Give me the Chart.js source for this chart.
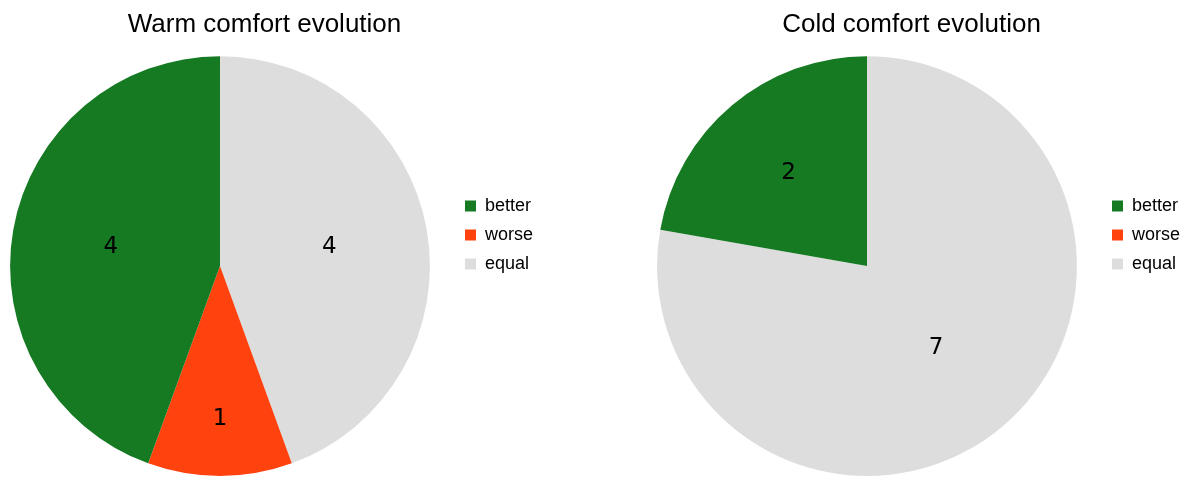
<!DOCTYPE html>
<html>
<head>
<meta charset="utf-8">
<script src="https://cdn.jsdelivr.net/npm/chart.js@4/dist/chart.umd.min.js"></script>
<style>
  html, body { margin: 0; padding: 0; background: #fff; overflow: hidden; }
  #wrap { position: relative; width: 1189px; height: 477px; }
  canvas { position: absolute; top: 0; }
</style>
</head>
<body>
<div id="wrap">
  <canvas id="warm" width="562" height="477" style="left:-14px"></canvas>
  <canvas id="cold" width="562" height="477" style="left:633px"></canvas>
</div>
<script>
// chart data
const categories = ['better', 'worse', 'equal'];
const warmValues = [4, 1, 4];
const coldValues = [2, 0, 7];
const sliceColors = ['#157a22', '#ff420e', '#dddddd'];

// values printed inside each slice, small slices get pushed outward
const sliceLabels = {
  id: 'sliceLabels',
  afterDatasetsDraw(chart) {
    const ctx = chart.ctx;
    const meta = chart.getDatasetMeta(0);
    const data = chart.data.datasets[0].data;
    ctx.save();
    ctx.font = '23px "DejaVu Sans"';
    ctx.fillStyle = '#000';
    ctx.textAlign = 'center';
    ctx.textBaseline = 'middle';
    meta.data.forEach((arc, i) => {
      if (!data[i]) return;
      const p = arc.getProps(['x', 'y', 'startAngle', 'endAngle', 'outerRadius'], true);
      const mid = (p.startAngle + p.endAngle) / 2;
      const span = p.endAngle - p.startAngle;
      const f = 0.5 + 0.23 * Math.pow((Math.PI * 2 / 9) / span, 1.5);
      ctx.fillText(String(data[i]), p.x + Math.cos(mid) * p.outerRadius * f, p.y + Math.sin(mid) * p.outerRadius * f);
    });
    ctx.restore();
  }
};

// LibreOffice draws slices counter-clockwise, so feed them reversed
const makeConfig = (title, values) => ({
  type: 'pie',
  data: {
    labels: categories.slice().reverse(),
    datasets: [
      {
        data: values.slice().reverse(),
        backgroundColor: sliceColors.slice().reverse(),
        borderWidth: 0,
      },
    ],
  },
  options: {
    responsive: false,
    animation: false,
    layout: { padding: { left: 0, right: 5, top: 0, bottom: 1 } },
    plugins: {
      tooltip: { enabled: false },
      title: {
        display: true,
        text: title,
        color: '#000',
        font: { family: '"Liberation Sans", Arial, sans-serif', size: 26, weight: 'normal' },
        padding: { top: 9, bottom: 16 },
      },
      legend: {
        position: 'right',
        align: 'start',
        reverse: true,
        // empty title only used as a spacer to push the items down
        title: { display: true, text: ' ', font: { size: 1, lineHeight: 1 }, padding: { top: 0, bottom: 185 } },
        labels: {
          color: '#000',
          boxWidth: 11,
          boxHeight: 11,
          padding: 11,
          font: { family: '"Liberation Sans", Arial, sans-serif', size: 18 },
        },
      },
    },
  },
  plugins: [sliceLabels],
});

new Chart(document.getElementById('warm'), makeConfig('Warm comfort evolution', warmValues));
new Chart(document.getElementById('cold'), makeConfig('Cold comfort evolution', coldValues));
</script>
</body>
</html>
